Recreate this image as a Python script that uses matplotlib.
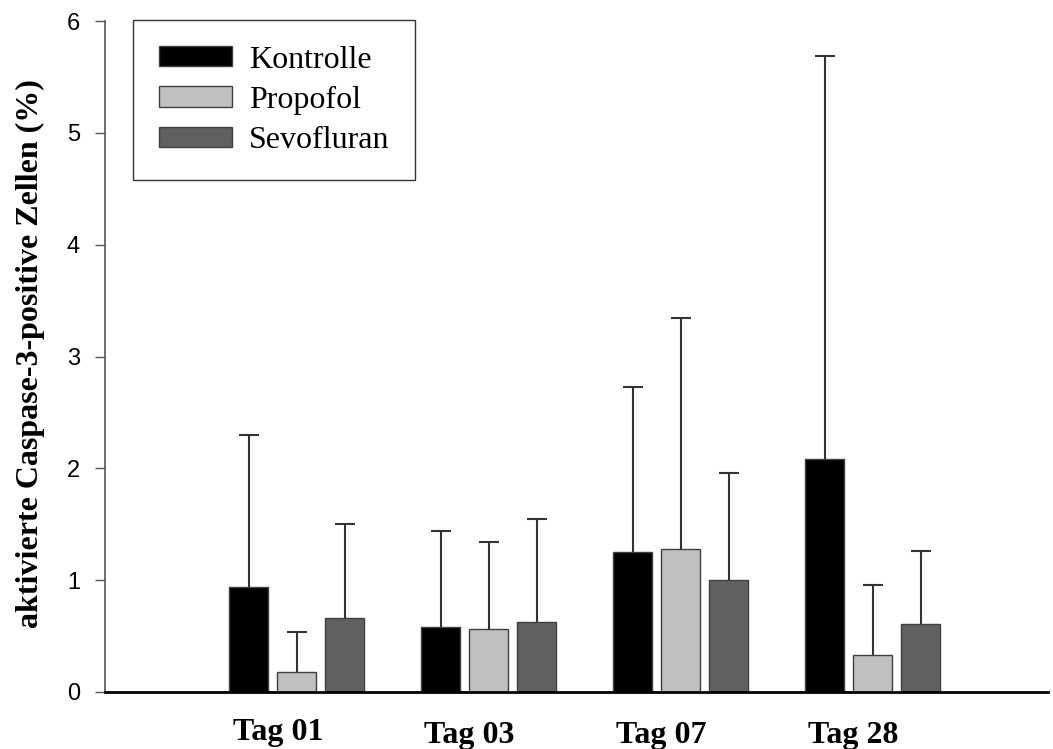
import matplotlib
matplotlib.use("Agg")
import matplotlib.pyplot as plt
import numpy as np

# data
days = ["Tag 01", "Tag 03", "Tag 07", "Tag 28"]
groups = ["Kontrolle", "Propofol", "Sevofluran"]
kontrolle = [0.94, 0.58, 1.25, 2.08]
propofol = [0.18, 0.56, 1.28, 0.33]
sevofluran = [0.66, 0.63, 1.00, 0.61]
kontrolle_sd = [1.36, 0.86, 1.48, 3.61]
propofol_sd = [0.36, 0.78, 2.06, 0.63]
sevofluran_sd = [0.84, 0.92, 0.96, 0.65]

means = [kontrolle, propofol, sevofluran]
sds = [kontrolle_sd, propofol_sd, sevofluran_sd]
colors = ["#000000", "#c0c0c0", "#606060"]

fig = plt.figure(figsize=(10.53, 7.49), dpi=100)
ax = fig.add_axes([105 / 1053, 57 / 749, 943 / 1053, 671 / 749])

x = np.arange(len(days))
width = 0.203
for i in range(3):
    pos = x + (i - 1) * 0.25
    ax.bar(pos, means[i], width, color=colors[i], edgecolor="#404040",
           linewidth=1, label=groups[i], zorder=2)
    eb = ax.errorbar(pos, means[i], yerr=[np.zeros(len(days)), sds[i]],
                     fmt="none", ecolor="#333333", elinewidth=1.5,
                     capsize=7, capthick=1.5, zorder=3)
    eb[1][0].set_visible(False)

ax.set_xlim(-1.0, 3.914)
ax.set_ylim(0, 6)
ax.set_xticks([])
ax.set_yticks(range(7))
ax.tick_params(axis="y", direction="out", length=7, width=1, color="#555555",
               labelsize=17, pad=11)
for lab in ax.get_yticklabels():
    lab.set_family("Liberation Sans")

for s in ["top", "right"]:
    ax.spines[s].set_visible(False)
ax.spines["left"].set_color("#555555")
ax.spines["left"].set_linewidth(1.2)
ax.spines["bottom"].set_color("black")
ax.spines["bottom"].set_linewidth(2)

# day labels sit a little left of the group centre
label_y = [-0.43, -0.455, -0.455, -0.455]
for i, d in enumerate(days):
    ax.text(x[i] - 0.1, label_y[i], d, ha="center", va="baseline",
            fontsize=23, fontweight="bold", family="Liberation Serif",
            clip_on=False)

fig.text(30 / 1053, 1 - 354 / 749, "aktivierte Caspase-3-positive Zellen (%)",
         rotation=90, ha="center", va="center", fontsize=23,
         fontweight="bold", family="Liberation Serif")

leg = ax.legend(loc="upper left", bbox_to_anchor=(133 / 1053, 1 - 20 / 749),
                bbox_transform=fig.transFigure, borderaxespad=0,
                prop={"family": "Liberation Serif", "size": 23},
                frameon=True, fancybox=False, edgecolor="black",
                handlelength=2.3, handleheight=0.6, handletextpad=0.53,
                labelspacing=0.35, borderpad=0.8)
leg.get_frame().set_linewidth(1)

fig.savefig("out.png", dpi=100)
